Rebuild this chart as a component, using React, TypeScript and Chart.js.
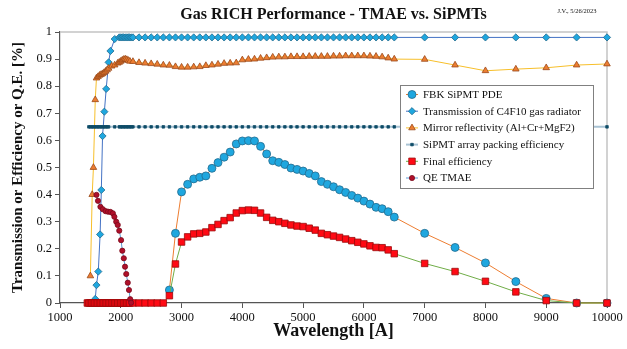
import React, { useEffect, useRef } from 'react';
import { Chart, registerables } from 'chart.js';
import { drawPoint } from 'chart.js/helpers';

Chart.register(...registerables);

const SERIF = '"Liberation Serif", "Times New Roman", serif';

// Wavelength grids [Å]
const WL_MAIN = [
  2200, 2300, 2400, 2500, 2600, 2700, 2800, 2900, 3000, 3100, 3200, 3300, 3400, 3500, 3600,
  3700, 3800, 3900, 4000, 4100, 4200, 4300, 4400, 4500, 4600, 4700, 4800, 4900, 5000, 5100,
  5200, 5300, 5400, 5500, 5600, 5700, 5800, 5900, 6000, 6100, 6200, 6300, 6400, 6500,
];
const WL_TAIL = [7000, 7500, 8000, 8500, 9000, 9500, 10000];

// FBK SiPMT PDE (2800 .. 6500, then tail)
const PDE_WL = [
  2800, 2900, 3000, 3100, 3200, 3300, 3400, 3500, 3600, 3700, 3800, 3900, 4000, 4100, 4200,
  4300, 4400, 4500, 4600, 4700, 4800, 4900, 5000, 5100, 5200, 5300, 5400, 5500, 5600, 5700,
  5800, 5900, 6000, 6100, 6200, 6300, 6400, 6500,
];
const PDE_VAL = [
  0.048, 0.257, 0.41, 0.438, 0.458, 0.464, 0.469, 0.497, 0.518, 0.538, 0.557, 0.587, 0.598,
  0.599, 0.598, 0.578, 0.55, 0.525, 0.519, 0.511, 0.498, 0.493, 0.487, 0.478, 0.469, 0.448,
  0.438, 0.429, 0.418, 0.408, 0.397, 0.387, 0.376, 0.365, 0.353, 0.348, 0.337, 0.317,
];
const PDE_TAIL = [0.257, 0.205, 0.148, 0.079, 0.017, 0, 0];

// Transmission of C4F10 gas radiator
const C4F10_WL_UV = [
  1580, 1600, 1630, 1660, 1680, 1700, 1730, 1760, 1800, 1830, 1900, 1975, 2000, 2025, 2050,
  2075, 2100, 2125, 2150, 2175,
];
const C4F10_UV = [
  0.015, 0.066, 0.116, 0.253, 0.417, 0.616, 0.706, 0.79, 0.888, 0.93, 0.974, 0.98, 0.98, 0.98,
  0.98, 0.98, 0.98, 0.98, 0.98, 0.98,
];
const C4F10_MAIN = [
  0.98, 0.98, 0.98, 0.98, 0.98, 0.98, 0.98, 0.98, 0.98, 0.98, 0.98, 0.98, 0.98, 0.98, 0.98,
  0.98, 0.98, 0.98, 0.98, 0.98, 0.98, 0.98, 0.98, 0.98, 0.98, 0.98, 0.98, 0.98, 0.98, 0.98,
  0.98, 0.98, 0.98, 0.98, 0.98, 0.98, 0.98, 0.98, 0.98, 0.98, 0.98, 0.98, 0.98, 0.98,
];
const C4F10_TAIL = [0.98, 0.98, 0.98, 0.98, 0.98, 0.98, 0.98];

// Mirror reflectivity (Al+Cr+MgF2)
const MIRROR_WL_UV = [
  1500, 1530, 1550, 1580, 1600, 1625, 1650, 1675, 1700, 1725, 1750, 1775, 1800, 1850, 1900,
  1950, 1975, 2000, 2025, 2050, 2075, 2100, 2125, 2150,
];
const MIRROR_UV = [
  0.1, 0.4, 0.5, 0.75, 0.83, 0.835, 0.84, 0.843, 0.846, 0.85, 0.855, 0.86, 0.866, 0.874, 0.878,
  0.885, 0.888, 0.892, 0.896, 0.899, 0.9, 0.898, 0.895, 0.892,
];
const MIRROR_MAIN = [
  0.891, 0.887, 0.885, 0.883, 0.881, 0.878, 0.877, 0.872, 0.87, 0.87, 0.871, 0.872, 0.876,
  0.878, 0.881, 0.884, 0.885, 0.886, 0.897, 0.899, 0.9, 0.903, 0.905, 0.907, 0.908, 0.908,
  0.909, 0.909, 0.909, 0.91, 0.91, 0.91, 0.91, 0.911, 0.911, 0.912, 0.912, 0.912, 0.912,
  0.911, 0.91, 0.908, 0.904, 0.9,
];
const MIRROR_TAIL = [0.899, 0.878, 0.857, 0.863, 0.868, 0.878, 0.882];

// SiPMT array packing efficiency
const PACK_WL_UV = [
  1475, 1500, 1525, 1550, 1575, 1600, 1625, 1650, 1675, 1700, 1725, 1750, 1775, 1800, 1900,
  1975, 2000, 2025, 2050, 2075, 2100, 2125, 2150, 2175,
];
const PACK_UV = [
  0.65, 0.65, 0.65, 0.65, 0.65, 0.65, 0.65, 0.65, 0.65, 0.65, 0.65, 0.65, 0.65, 0.65, 0.65,
  0.65, 0.65, 0.65, 0.65, 0.65, 0.65, 0.65, 0.65, 0.65,
];
const PACK_MAIN = [
  0.65, 0.65, 0.65, 0.65, 0.65, 0.65, 0.65, 0.65, 0.65, 0.65, 0.65, 0.65, 0.65, 0.65, 0.65,
  0.65, 0.65, 0.65, 0.65, 0.65, 0.65, 0.65, 0.65, 0.65, 0.65, 0.65, 0.65, 0.65, 0.65, 0.65,
  0.65, 0.65, 0.65, 0.65, 0.65, 0.65, 0.65, 0.65, 0.65, 0.65, 0.65, 0.65, 0.65, 0.65,
];
const PACK_TAIL = [0.65, 0.65, 0.65, 0.65, 0.65, 0.65, 0.65];

// Final efficiency
const FINAL_WL_UV = [
  1450, 1475, 1500, 1525, 1550, 1575, 1600, 1625, 1650, 1675, 1700, 1725, 1750, 1775, 1800,
  1825, 1850, 1875, 1900, 1925, 1950, 1975, 2000, 2025, 2050, 2075, 2100, 2125, 2150,
];
const FINAL_UV = [
  0, 0, 0, 0, 0, 0, 0, 0, 0, 0, 0, 0, 0, 0, 0, 0, 0, 0, 0, 0, 0, 0, 0, 0, 0, 0, 0, 0, 0,
];
const FINAL_MAIN = [
  0, 0, 0, 0, 0, 0, 0.027, 0.144, 0.225, 0.244, 0.255, 0.257, 0.262, 0.278, 0.29, 0.304, 0.315,
  0.332, 0.341, 0.343, 0.342, 0.332, 0.316, 0.305, 0.3, 0.294, 0.288, 0.284, 0.282, 0.276,
  0.269, 0.257, 0.252, 0.247, 0.242, 0.236, 0.23, 0.224, 0.218, 0.211, 0.205, 0.204, 0.196,
  0.182,
];
const FINAL_TAIL = [0.146, 0.116, 0.08, 0.041, 0.009, 0, 0];

// QE TMAE
const QE_WL = [
  1600, 1625, 1665, 1705, 1750, 1790, 1830, 1870, 1895, 1925, 1950, 1975, 2005, 2025, 2050,
  2070, 2090, 2115, 2135, 2155, 2170,
];
const QE_VAL = [
  0.399, 0.377, 0.355, 0.346, 0.339, 0.337, 0.336, 0.331, 0.318, 0.3, 0.288, 0.267, 0.232,
  0.193, 0.165, 0.134, 0.107, 0.075, 0.048, 0.014, 0.001,
];

const X_TICKS_STEP = 1000;
const Y_TICKS_STEP = 0.1;

const pts = (xs: number[], ys: number[]) => xs.map((x, i) => ({ x, y: ys[i] }));

const datasets: any[] = [
  {
    label: 'FBK SiPMT PDE',
    data: pts([...PDE_WL, ...WL_TAIL], [...PDE_VAL, ...PDE_TAIL]),
    borderColor: '#ED7D31',
    backgroundColor: '#1FA7DF',
    pointBorderColor: '#236b8e',
    pointStyle: 'circle',
    pointRadius: 4,
    order: 6,
  },
  {
    label: 'Transmission of C4F10 gas radiator',
    data: pts([...C4F10_WL_UV, ...WL_MAIN, ...WL_TAIL], [...C4F10_UV, ...C4F10_MAIN, ...C4F10_TAIL]),
    borderColor: '#4472C4',
    backgroundColor: '#1FA7DF',
    pointBorderColor: '#236b8e',
    pointStyle: 'rectRot',
    pointRadius: 3.6,
    order: 5,
  },
  {
    label: 'Mirror reflectivity (Al+Cr+MgF2)',
    data: pts([...MIRROR_WL_UV, ...WL_MAIN, ...WL_TAIL], [...MIRROR_UV, ...MIRROR_MAIN, ...MIRROR_TAIL]),
    borderColor: '#F7BF2A',
    backgroundColor: '#ED7D31',
    pointBorderColor: '#9a4a1a',
    pointStyle: 'triangle',
    pointRadius: 3.8,
    order: 4,
  },
  {
    label: 'SiPMT array packing efficiency',
    data: pts([...PACK_WL_UV, ...WL_MAIN, ...WL_TAIL], [...PACK_UV, ...PACK_MAIN, ...PACK_TAIL]),
    borderColor: '#a9c3d4',
    backgroundColor: '#0f4c68',
    pointBorderColor: '#0f4c68',
    pointStyle: 'rect',
    pointRadius: 1.8,
    borderWidth: 2,
    order: 3,
  },
  {
    label: 'Final efficiency',
    data: pts([...FINAL_WL_UV, ...WL_MAIN, ...WL_TAIL], [...FINAL_UV, ...FINAL_MAIN, ...FINAL_TAIL]),
    borderColor: '#70AD47',
    backgroundColor: '#FF0A14',
    pointBorderColor: '#9b0a0a',
    pointStyle: 'rect',
    pointRadius: 4.6,
    order: 2,
  },
  {
    label: 'QE TMAE',
    data: pts(QE_WL, QE_VAL),
    borderColor: '#5B9BD5',
    backgroundColor: '#B0102A',
    pointBorderColor: '#7a0a1c',
    pointStyle: 'circle',
    pointRadius: 2.6,
    order: 1,
  },
].map((d) => ({
  showLine: true,
  borderWidth: 1,
  pointBorderWidth: 0.8,
  pointBackgroundColor: d.backgroundColor,
  clip: false,
  ...d,
}));

// Grey frame on the top and right of the plot area
const framePlugin = {
  id: 'frame',
  beforeDatasetsDraw(chart: any) {
    const { ctx, chartArea: a } = chart;
    ctx.save();
    ctx.strokeStyle = '#c4c4c4';
    ctx.lineWidth = 1.5;
    ctx.beginPath();
    ctx.moveTo(a.left, a.top);
    ctx.lineTo(a.right, a.top);
    ctx.lineTo(a.right, a.bottom);
    ctx.stroke();
    ctx.restore();
  },
};

// Chart title, axis titles and the date stamp
const titlesPlugin = {
  id: 'titles',
  afterDraw(chart: any) {
    const { ctx, chartArea: a } = chart;
    const cx = (a.left + a.right) / 2;
    ctx.save();
    ctx.fillStyle = '#111';
    ctx.textAlign = 'center';
    ctx.textBaseline = 'middle';
    ctx.font = `bold 16px ${SERIF}`;
    ctx.fillText('Gas RICH Performance - TMAE vs. SiPMTs', cx, 15);
    ctx.font = `bold 18px ${SERIF}`;
    ctx.fillText('Wavelength [A]', cx, 331);
    ctx.font = `6.5px ${SERIF}`;
    ctx.fillText('J.V., 5/26/2023', 577, 11);
    ctx.translate(18, (a.top + a.bottom) / 2);
    ctx.rotate(-Math.PI / 2);
    ctx.font = `bold 15px ${SERIF}`;
    ctx.fillText('Transmission or Efficiency or Q.E. [%]', 0, 0);
    ctx.restore();
  },
};

// Boxed legend inside the plot area
const legendPlugin = {
  id: 'boxLegend',
  afterDraw(chart: any) {
    const { ctx, chartArea: a } = chart;
    const bx = a.left + 340;
    const by = a.top + 53;
    const bw = 193;
    const bh = 103;
    ctx.save();
    ctx.fillStyle = '#ffffff';
    ctx.fillRect(bx, by, bw, bh);
    ctx.strokeStyle = '#808080';
    ctx.lineWidth = 1;
    ctx.strokeRect(bx + 0.5, by + 0.5, bw, bh);
    ctx.font = `11px ${SERIF}`;
    ctx.textBaseline = 'middle';
    ctx.textAlign = 'left';
    chart.data.datasets.forEach((ds: any, i: number) => {
      const y = by + 9.5 + i * 16.7;
      ctx.strokeStyle = ds.borderColor;
      ctx.lineWidth = ds.borderWidth;
      ctx.beginPath();
      ctx.moveTo(bx + 6, y);
      ctx.lineTo(bx + 18, y);
      ctx.stroke();
      ctx.fillStyle = ds.pointBackgroundColor;
      ctx.strokeStyle = ds.pointBorderColor;
      ctx.lineWidth = ds.pointBorderWidth;
      drawPoint(ctx, { pointStyle: ds.pointStyle, radius: ds.pointRadius, rotation: 0, borderWidth: ds.pointBorderWidth }, bx + 12, y);
      ctx.fillStyle = '#111';
      ctx.fillText(ds.label, bx + 23, y + 0.5);
    });
    ctx.restore();
  },
};

const plainNumber = (v: number | string) => String(Number(Number(v).toFixed(2)));

export default function App() {
  const ref = useRef<HTMLCanvasElement>(null);

  useEffect(() => {
    document.body.style.margin = '0';
    const tickFont = { family: SERIF, size: 12.5 };
    const chart = new Chart(ref.current as HTMLCanvasElement, {
      type: 'scatter',
      data: { datasets },
      options: {
        responsive: false,
        animation: false,
        devicePixelRatio: 1,
        layout: { padding: { top: 32, right: 20, left: 0, bottom: 0 } },
        plugins: {
          legend: { display: false },
          title: { display: false },
          tooltip: { enabled: false },
        },
        scales: {
          x: {
            type: 'linear',
            min: 1000,
            max: 10000,
            ticks: {
              stepSize: X_TICKS_STEP,
              font: tickFont,
              color: '#111',
              padding: 2,
              maxRotation: 0,
              callback: plainNumber,
            },
            grid: { drawOnChartArea: false, tickLength: 5, color: '#555' },
            border: { color: '#555', width: 1.2 },
            afterFit: (s: any) => {
              s.height = 46;
            },
          },
          y: {
            min: 0,
            max: 1,
            ticks: { stepSize: Y_TICKS_STEP, font: tickFont, color: '#111', padding: 3, callback: plainNumber },
            grid: { drawOnChartArea: false, tickLength: 5, color: '#555' },
            border: { color: '#555', width: 1.2 },
            afterFit: (s: any) => {
              s.width = 60;
            },
          },
        },
      } as any,
      plugins: [framePlugin, titlesPlugin, legendPlugin],
    });
    return () => chart.destroy();
  }, []);

  return (
    <div style={{ width: 627, height: 349 }}>
      <canvas ref={ref} width={627} height={349} style={{ width: 627, height: 349, display: 'block' }} />
    </div>
  );
}
